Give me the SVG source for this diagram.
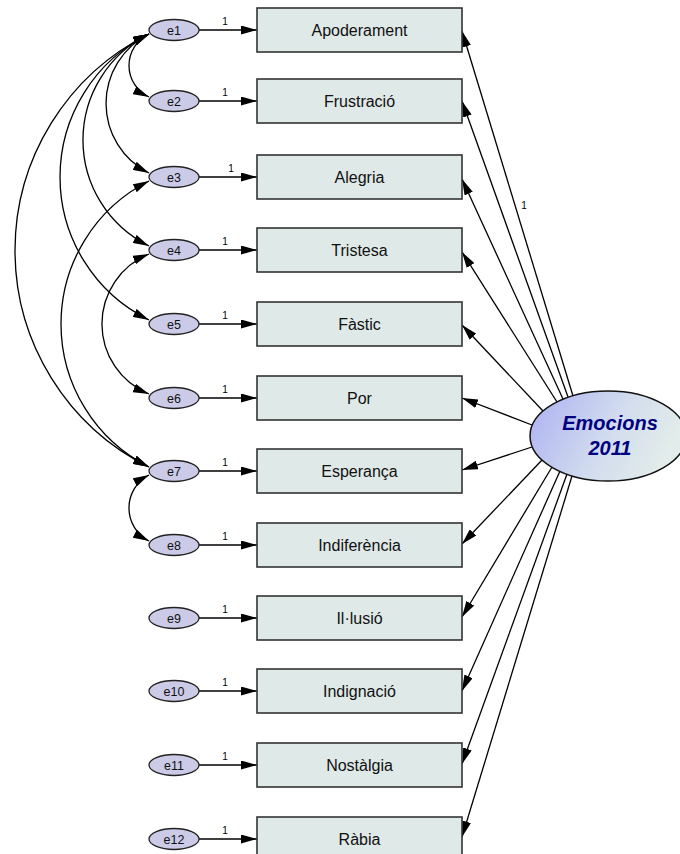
<svg xmlns="http://www.w3.org/2000/svg" width="680" height="854" viewBox="0 0 680 854">
<style>
.box{fill:#dfe9e8;stroke:#333;stroke-width:1.6}
.err{fill:#cbcbe7;stroke:#222;stroke-width:1.3}
.bt{font-family:"Liberation Sans",Arial,sans-serif;font-size:16px;fill:#111;text-anchor:middle}
.et{font-family:"Liberation Sans",Arial,sans-serif;font-size:12.5px;fill:#111;text-anchor:middle}
.one{font-family:"Liberation Sans",Arial,sans-serif;font-size:10px;fill:#000;text-anchor:middle}
.ln{fill:none;stroke:#000;stroke-width:1.3}
.cov{fill:none;stroke:#000;stroke-width:1.3;marker-start:url(#ah);marker-end:url(#ah)}
.arr{marker-end:url(#ah)}
.lt{font-family:"Liberation Sans",Arial,sans-serif;font-size:20px;font-weight:bold;font-style:italic;fill:#000080;text-anchor:middle}
</style>
<defs>
<marker id="ah" markerUnits="userSpaceOnUse" markerWidth="16" markerHeight="9" refX="16" refY="4.5" orient="auto-start-reverse" viewBox="0 0 16 9">
<path d="M0,0 L16,4.5 L0,9 Z" fill="#000"/>
</marker>
<linearGradient id="lg" x1="0" y1="0" x2="1" y2="0.3">
<stop offset="0" stop-color="#acb0f2"/>
<stop offset="0.6" stop-color="#d2dcee"/>
<stop offset="1" stop-color="#e2ecea"/>
</linearGradient>
</defs>

<g id="connectors">
<path class="ln arr" d="M199,30 L257,30"/>
<path class="ln arr" d="M199,101 L257,101"/>
<path class="ln arr" d="M199,177 L257,177"/>
<path class="ln arr" d="M199,250 L257,250"/>
<path class="ln arr" d="M199,324 L257,324"/>
<path class="ln arr" d="M199,398 L257,398"/>
<path class="ln arr" d="M199,471 L257,471"/>
<path class="ln arr" d="M199,545 L257,545"/>
<path class="ln arr" d="M199,618 L257,618"/>
<path class="ln arr" d="M199,691 L257,691"/>
<path class="ln arr" d="M199,765 L257,765"/>
<path class="ln arr" d="M199,839 L257,839"/>
<text class="one" x="225" y="25">1</text>
<text class="one" x="225" y="96">1</text>
<text class="one" x="231" y="172">1</text>
<text class="one" x="225" y="245">1</text>
<text class="one" x="225" y="319">1</text>
<text class="one" x="225" y="393">1</text>
<text class="one" x="225" y="466">1</text>
<text class="one" x="225" y="540">1</text>
<text class="one" x="225" y="613">1</text>
<text class="one" x="225" y="686">1</text>
<text class="one" x="225" y="760">1</text>
<text class="one" x="225" y="834">1</text>
<path class="ln arr" d="M573,396 L462,31"/>
<path class="ln arr" d="M568,397 L462,101"/>
<path class="ln arr" d="M563,399 L462,179"/>
<path class="ln arr" d="M557,402 L462,252"/>
<path class="ln arr" d="M543,411 L462,325"/>
<path class="ln arr" d="M532,425 L462,398"/>
<path class="ln arr" d="M532,447 L462,470"/>
<path class="ln arr" d="M542,460 L462,544"/>
<path class="ln arr" d="M552,467 L462,617"/>
<path class="ln arr" d="M560,471 L462,691"/>
<path class="ln arr" d="M567,474 L462,764"/>
<path class="ln arr" d="M572,476 L462,837"/>
<text class="one" x="524" y="209">1</text>
<path class="cov" d="M149,34 A34.8,34.8 0 0 0 149,97"/>
<path class="cov" d="M149,34 A77.7,77.7 0 0 0 149,173"/>
<path class="cov" d="M149,34 A118.1,118.1 0 0 0 149,246"/>
<path class="cov" d="M149,34 A159.4,159.4 0 0 0 149,320"/>
<path class="cov" d="M149,34 A241.9,241.9 0 0 0 149,467"/>
<path class="cov" d="M149,181 A160.2,160.2 0 0 0 149,467"/>
<path class="cov" d="M149,254 A75.6,75.6 0 0 0 149,394"/>
<path class="cov" d="M149,475 A37.2,37.2 0 0 0 149,541"/>
</g>

<g id="Apoderament"><rect class="box" x="257" y="8" width="205" height="44"/><text class="bt" x="359.5" y="36">Apoderament</text></g>
<g id="Frustracio"><rect class="box" x="257" y="79" width="205" height="44"/><text class="bt" x="359.5" y="107">Frustració</text></g>
<g id="Alegria"><rect class="box" x="257" y="155" width="205" height="44"/><text class="bt" x="359.5" y="183">Alegria</text></g>
<g id="Tristesa"><rect class="box" x="257" y="228" width="205" height="44"/><text class="bt" x="359.5" y="256">Tristesa</text></g>
<g id="Fastic"><rect class="box" x="257" y="302" width="205" height="44"/><text class="bt" x="359.5" y="330">Fàstic</text></g>
<g id="Por"><rect class="box" x="257" y="376" width="205" height="44"/><text class="bt" x="359.5" y="404">Por</text></g>
<g id="Esperanca"><rect class="box" x="257" y="449" width="205" height="44"/><text class="bt" x="359.5" y="477">Esperança</text></g>
<g id="Indiferencia"><rect class="box" x="257" y="523" width="205" height="44"/><text class="bt" x="359.5" y="551">Indiferència</text></g>
<g id="Illusio"><rect class="box" x="257" y="596" width="205" height="44"/><text class="bt" x="359.5" y="624">Il·lusió</text></g>
<g id="Indignacio"><rect class="box" x="257" y="669" width="205" height="44"/><text class="bt" x="359.5" y="697">Indignació</text></g>
<g id="Nostalgia"><rect class="box" x="257" y="743" width="205" height="44"/><text class="bt" x="359.5" y="771">Nostàlgia</text></g>
<g id="Rabia"><rect class="box" x="257" y="817" width="205" height="44"/><text class="bt" x="359.5" y="845">Ràbia</text></g>

<g id="e1"><ellipse class="err" cx="174" cy="30" rx="25" ry="10.5"/><text class="et" x="174" y="34.5">e1</text></g>
<g id="e2"><ellipse class="err" cx="174" cy="101" rx="25" ry="10.5"/><text class="et" x="174" y="105.5">e2</text></g>
<g id="e3"><ellipse class="err" cx="174" cy="177" rx="25" ry="10.5"/><text class="et" x="174" y="181.5">e3</text></g>
<g id="e4"><ellipse class="err" cx="174" cy="250" rx="25" ry="10.5"/><text class="et" x="174" y="254.5">e4</text></g>
<g id="e5"><ellipse class="err" cx="174" cy="324" rx="25" ry="10.5"/><text class="et" x="174" y="328.5">e5</text></g>
<g id="e6"><ellipse class="err" cx="174" cy="398" rx="25" ry="10.5"/><text class="et" x="174" y="402.5">e6</text></g>
<g id="e7"><ellipse class="err" cx="174" cy="471" rx="25" ry="10.5"/><text class="et" x="174" y="475.5">e7</text></g>
<g id="e8"><ellipse class="err" cx="174" cy="545" rx="25" ry="10.5"/><text class="et" x="174" y="549.5">e8</text></g>
<g id="e9"><ellipse class="err" cx="174" cy="618" rx="25" ry="10.5"/><text class="et" x="174" y="622.5">e9</text></g>
<g id="e10"><ellipse class="err" cx="174" cy="691" rx="25" ry="10.5"/><text class="et" x="174" y="695.5">e10</text></g>
<g id="e11"><ellipse class="err" cx="174" cy="765" rx="25" ry="10.5"/><text class="et" x="174" y="769.5">e11</text></g>
<g id="e12"><ellipse class="err" cx="174" cy="839" rx="25" ry="10.5"/><text class="et" x="174" y="843.5">e12</text></g>

<g id="Emocions2011"><ellipse cx="608" cy="436" rx="78" ry="45" fill="url(#lg)" stroke="#111" stroke-width="1.5"/><text class="lt" x="610" y="430">Emocions</text><text class="lt" x="610" y="455">2011</text></g>
</svg>
